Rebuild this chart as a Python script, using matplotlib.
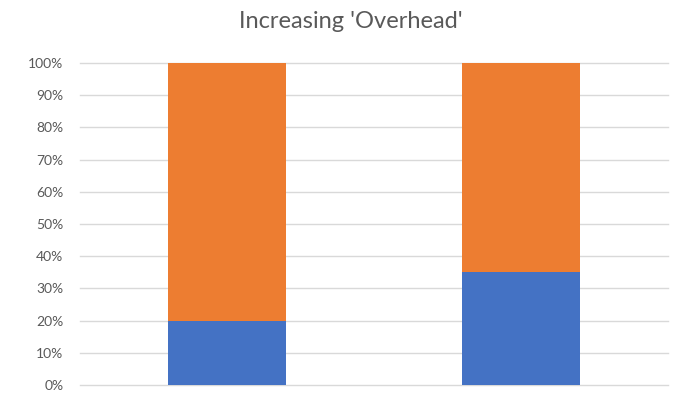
import numpy as np
import matplotlib
matplotlib.use("Agg")
import matplotlib.pyplot as plt
from matplotlib.ticker import PercentFormatter

plt.rcParams['font.family'] = ['Lato', 'DejaVu Sans']

categories = ["A", "B"]
lower = [0.20, 0.35]
upper = [0.80, 0.65]
title = "Increasing 'Overhead'"

fig = plt.figure(figsize=(6.76, 3.96), dpi=100)
ax = fig.add_axes([80 / 676, 11 / 396, 588 / 676, 322 / 396])

x = np.arange(len(categories))
ax.bar(x, lower, width=0.4, color="#4472C4", zorder=3)
ax.bar(x, upper, width=0.4, bottom=lower, color="#ED7D31", zorder=3)

ax.set_xlim(-0.5, len(categories) - 0.5)
ax.set_ylim(0, 1)
ax.set_yticks(np.arange(0, 1.01, 0.1))
ax.yaxis.set_major_formatter(PercentFormatter(1.0, decimals=0))
ax.set_xticks([])
ax.grid(axis="y", color="#D9D9D9", linewidth=1, zorder=0)
for g in ax.get_ygridlines():
    g.set_clip_on(False)
for s in ax.spines.values():
    s.set_visible(False)
ax.tick_params(axis="y", length=0, pad=12, labelsize=10, labelcolor="#595959")

fig.text(351 / 676, 1 - 22 / 396, title, ha="center", va="center", fontsize=17, color="#595959")

fig.savefig("out.png", dpi=100)
